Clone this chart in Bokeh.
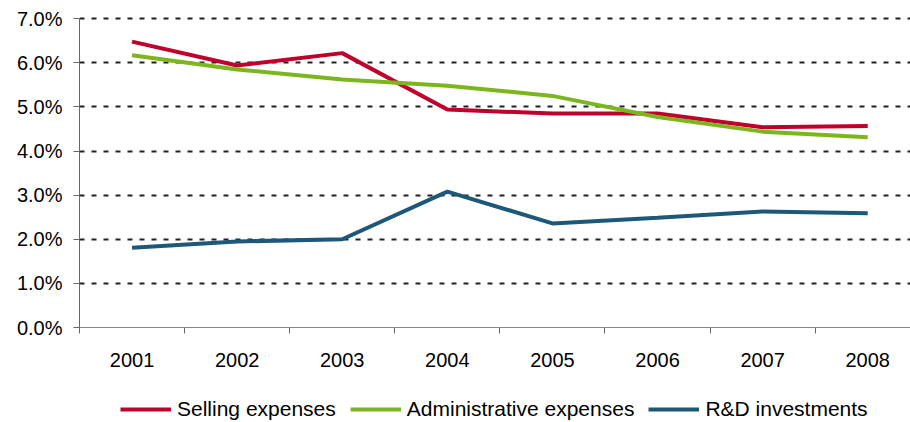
from bokeh.plotting import figure
from bokeh.layouts import column
from bokeh.models import FixedTicker, Legend, LegendItem, Range1d, PrintfTickFormatter
from bokeh.embed import file_html
from bokeh.resources import INLINE

years = ["2001", "2002", "2003", "2004", "2005", "2006", "2007", "2008"]
selling = [6.48, 5.94, 6.22, 4.94, 4.85, 4.85, 4.54, 4.57]
admin = [6.17, 5.85, 5.62, 5.48, 5.25, 4.77, 4.44, 4.31]
rnd = [1.81, 1.95, 2.00, 3.08, 2.36, 2.49, 2.63, 2.59]
y_ticks = [0, 1, 2, 3, 4, 5, 6, 7]
series_names = ["Selling expenses", "Administrative expenses", "R&D investments"]
series_colors = ["#C0002C", "#7DB51F", "#1E5878"]

xs = list(range(len(years)))
FONT = "Liberation Sans"

p = figure(width=910, height=380, output_backend="svg", toolbar_location=None,
           x_range=Range1d(-0.5, 7.407), y_range=Range1d(0, 7.05),
           min_border_left=79, min_border_right=0, min_border_top=16, min_border_bottom=53)
p.outline_line_color = None
p.background_fill_color = "white"
p.border_fill_color = "white"

for vals, col in zip([selling, admin, rnd], series_colors):
    p.line(xs, vals, line_color=col, line_width=4)

# y axis
p.yaxis.ticker = FixedTicker(ticks=y_ticks)
p.yaxis.formatter = PrintfTickFormatter(format="%.1f%%")
p.yaxis.major_tick_out = 6
p.yaxis.major_tick_in = 0
p.yaxis.minor_tick_line_color = None
p.yaxis.axis_line_color = "#666666"
p.yaxis.major_tick_line_color = "#666666"
p.yaxis.major_label_standoff = 11
p.yaxis.major_label_text_font = FONT
p.yaxis.major_label_text_font_size = "20px"
p.yaxis.major_label_text_color = "#000000"
p.yaxis.bounds = (0, 7)

# x axis
p.xaxis.ticker = FixedTicker(ticks=xs, minor_ticks=[i - 0.5 for i in xs])
p.xaxis.major_label_overrides = {i: y for i, y in enumerate(years)}
p.xaxis.major_tick_out = 0
p.xaxis.major_tick_in = 0
p.xaxis.minor_tick_out = 6
p.xaxis.minor_tick_in = 0
p.xaxis.minor_tick_line_color = "#666666"
p.xaxis.axis_line_color = "#888888"
p.xaxis.major_label_standoff = 19
p.xaxis.major_label_text_font = FONT
p.xaxis.major_label_text_font_size = "20px"
p.xaxis.major_label_text_color = "#000000"

# grid
p.xgrid.grid_line_color = None
p.ygrid.ticker = FixedTicker(ticks=y_ticks[1:])
p.ygrid.grid_line_color = "#222222"
p.ygrid.grid_line_width = 2
p.ygrid.grid_line_dash = "5 7"

# legend strip
q = figure(width=910, height=42, output_backend="svg", toolbar_location=None,
           x_axis_type=None, y_axis_type=None,
           x_range=Range1d(0, 1), y_range=Range1d(0, 1),
           min_border_left=0, min_border_right=0, min_border_top=0, min_border_bottom=0)
q.outline_line_color = None
q.grid.grid_line_color = None
items = []
for name, col in zip(series_names, series_colors):
    r = q.line([float("nan")], [float("nan")], line_color=col, line_width=4)
    items.append(LegendItem(label=name, renderers=[r]))

legend = Legend(items=items, orientation="horizontal", location=(41, 1),
    glyph_width=51, glyph_height=20, label_standoff=6, spacing=14,
    padding=0, margin=0, border_line_color=None, background_fill_alpha=0,
    label_text_font=FONT, label_text_font_size="21px", label_text_color="#000000")
q.add_layout(legend, "center")

layout = column(p, q, spacing=0)
open("out.html", "w").write(file_html(layout, INLINE))
